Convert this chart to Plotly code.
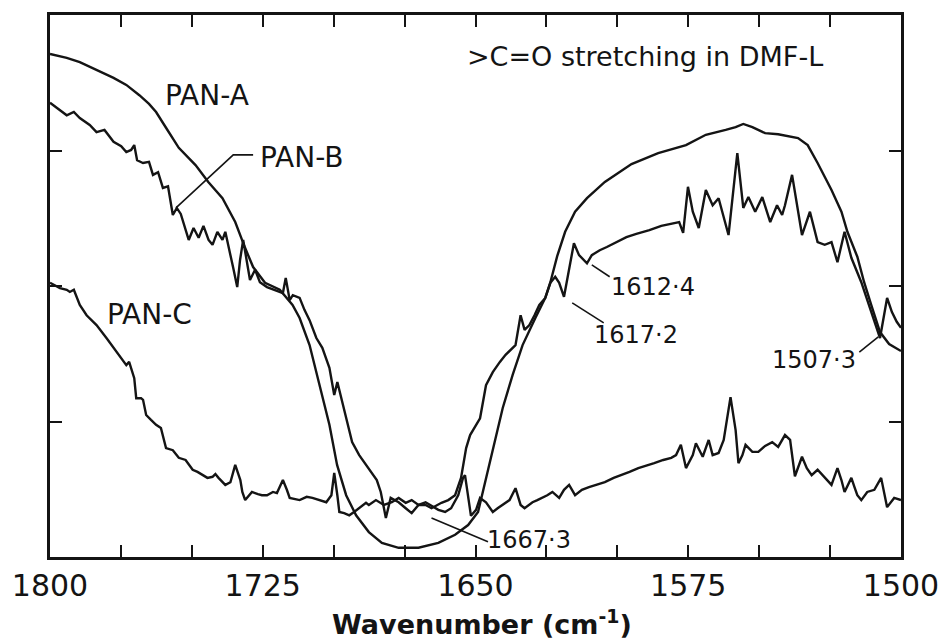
import plotly.graph_objects as go

# ---------------- data (wavenumber in cm^-1, intensity in arbitrary units 0-100) ----------------
pan_a_x = [1800.0, 1794.1, 1789.5, 1783.6, 1777.6, 1773.1, 1768.5, 1765.1, 1762.6, 1759.1,
           1754.6, 1748.7, 1744.2, 1739.2, 1734.7, 1731.2, 1728.4, 1724.2, 1719.0, 1714.5,
           1712.0, 1708.5, 1705.0, 1701.5, 1698.8, 1695.6, 1692.1, 1687.6, 1683.0, 1677.1,
           1670.1, 1663.1, 1657.2, 1652.6, 1649.1, 1647.4, 1643.9, 1640.4, 1636.9, 1633.4,
           1628.9, 1625.4, 1623.6, 1621.2, 1618.4, 1614.9, 1610.7, 1604.4, 1595.0, 1585.6,
           1575.8, 1568.8, 1561.8, 1558.3, 1555.6, 1552.4, 1547.9, 1543.3, 1536.3, 1532.9,
           1529.4, 1524.5, 1521.0, 1518.9, 1515.4, 1513.0, 1510.5, 1507.4, 1504.2, 1500.0]
pan_a_y = [92.8, 92.1, 91.3, 89.9, 88.4, 87.1, 85.2, 83.6, 82.1, 79.2,
           75.5, 72.3, 69.2, 66.2, 61.8, 57.0, 53.5, 50.6, 49.3, 46.5,
           44.1, 39.1, 31.7, 24.4, 17.0, 11.4, 7.7, 4.6, 2.6, 1.7,
           1.7, 2.6, 4.1, 5.9, 8.3, 12.0, 19.4, 27.5, 33.6, 39.1,
           44.1, 47.8, 50.7, 55.5, 60.0, 63.7, 66.2, 69.2, 72.5, 74.5,
           76.0, 77.9, 78.8, 79.3, 79.9, 79.3, 78.2, 78.0, 77.3, 76.0,
           72.7, 67.7, 63.7, 60.0, 55.4, 50.7, 46.5, 41.5, 39.3, 38.0]

pan_b_x = [1800.0, 1797.6, 1794.1, 1791.6, 1789.5, 1786.0, 1783.6, 1780.8, 1777.6, 1774.9,
           1773.1, 1771.4, 1770.3, 1769.3, 1767.2, 1765.1, 1763.7, 1761.9, 1760.2, 1758.4,
           1756.7, 1755.3, 1753.9, 1751.1, 1749.4, 1747.6, 1745.9, 1744.1, 1742.7, 1741.0,
           1739.2, 1738.2, 1737.1, 1735.4, 1734.0, 1733.0, 1731.9, 1730.5, 1729.5, 1727.7,
           1726.0, 1723.5, 1720.7, 1717.9, 1716.9, 1715.5, 1714.4, 1712.0, 1710.3, 1708.5,
           1706.1, 1704.0, 1701.5, 1699.8, 1698.7, 1697.3, 1695.6, 1693.5, 1691.0, 1688.6,
           1685.8, 1684.8, 1683.4, 1681.6, 1679.9, 1677.1, 1674.6, 1672.5, 1670.1, 1667.6,
           1665.5, 1662.0, 1659.6, 1657.2, 1655.1, 1653.3, 1651.9, 1649.8, 1648.4, 1646.3,
           1643.9, 1641.4, 1639.4, 1635.9, 1634.1, 1632.7, 1631.0, 1629.2, 1627.5, 1625.4,
           1623.6, 1621.9, 1620.5, 1618.8, 1617.0, 1615.3, 1613.5, 1610.7, 1609.0, 1606.2,
           1603.7, 1600.2, 1596.8, 1593.3, 1588.7, 1584.5, 1580.3, 1578.2, 1576.8, 1575.1,
           1573.4, 1571.3, 1568.8, 1566.4, 1564.3, 1560.8, 1557.7, 1555.6, 1553.8, 1551.4,
           1548.9, 1546.1, 1543.7, 1541.9, 1540.9, 1538.4, 1534.9, 1532.1, 1529.4, 1526.9,
           1524.5, 1522.4, 1519.9, 1517.5, 1514.0, 1510.5, 1507.4, 1504.9, 1503.2, 1501.5,
           1500.0]
pan_b_y = [83.8, 82.8, 81.5, 82.1, 81.0, 79.7, 78.4, 78.8, 76.6, 75.8,
           74.7, 75.1, 76.0, 73.2, 72.7, 72.9, 70.5, 71.0, 68.1, 68.4,
           63.1, 64.4, 63.3, 58.5, 60.7, 58.9, 61.1, 58.5, 57.6, 60.0,
           58.5, 60.0, 57.6, 53.3, 49.8, 54.8, 58.5, 54.4, 51.1, 53.0,
           50.7, 49.8, 49.3, 48.7, 51.5, 47.4, 48.3, 47.8, 45.6, 43.7,
           40.4, 38.6, 34.9, 29.9, 32.3, 29.3, 25.6, 21.2, 18.8, 17.0,
           14.8, 14.2, 12.0, 7.2, 10.9, 10.1, 9.0, 8.1, 9.6, 9.6,
           9.0, 10.0, 10.5, 11.4, 14.6, 20.1, 22.5, 24.4, 25.6, 31.7,
           34.1, 36.0, 37.3, 39.1, 44.6, 41.9, 42.8, 44.6, 46.5, 47.8,
           50.6, 51.7, 50.6, 48.0, 53.0, 57.9, 55.7, 54.2, 55.7, 56.6,
           57.2, 58.1, 59.0, 59.6, 60.3, 61.1, 61.6, 61.8, 59.8, 68.3,
           63.7, 60.7, 67.7, 64.9, 66.2, 59.4, 74.5, 64.4, 66.4, 63.7,
           66.4, 61.8, 64.9, 63.1, 64.9, 70.5, 59.4, 63.7, 58.1, 57.6,
           58.1, 54.4, 60.0, 55.2, 50.7, 45.2, 40.4, 47.8, 45.2, 43.4,
           42.3]

pan_c_x = [1800.0, 1798.6, 1796.5, 1794.1, 1793.0, 1791.6, 1789.5, 1787.1, 1783.6, 1780.1,
           1776.6, 1773.1, 1772.1, 1770.3, 1769.6, 1767.9, 1767.2, 1766.1, 1764.4, 1762.6,
           1760.9, 1759.1, 1756.7, 1754.6, 1752.2, 1749.7, 1748.0, 1746.2, 1744.5, 1742.7,
           1741.7, 1740.6, 1738.2, 1736.4, 1734.7, 1732.9, 1732.2, 1731.2, 1728.8, 1726.7,
           1725.3, 1723.5, 1721.4, 1720.0, 1717.9, 1716.5, 1715.5, 1712.0, 1709.5, 1707.5,
           1705.0, 1702.6, 1700.8, 1699.8, 1698.7, 1698.0, 1696.3, 1694.5, 1692.8, 1691.0,
           1688.6, 1687.6, 1685.1, 1682.3, 1679.5, 1677.1, 1674.6, 1672.5, 1670.1, 1667.6,
           1665.5, 1663.1, 1660.7, 1658.6, 1656.1, 1654.4, 1653.7, 1652.6, 1651.6, 1649.8,
           1648.4, 1646.3, 1643.9, 1642.2, 1640.4, 1638.0, 1635.9, 1634.1, 1632.7, 1629.9,
           1628.2, 1626.4, 1624.7, 1622.9, 1620.5, 1618.8, 1617.0, 1614.9, 1612.5, 1610.0,
           1607.2, 1604.4, 1601.3, 1598.5, 1595.7, 1592.6, 1589.8, 1587.0, 1583.8, 1581.0,
           1579.3, 1577.6, 1575.8, 1573.4, 1572.3, 1569.9, 1567.8, 1566.4, 1564.3, 1562.5,
           1560.1, 1558.3, 1557.3, 1555.9, 1554.8, 1552.4, 1550.3, 1547.9, 1545.4, 1543.3,
           1540.9, 1539.1, 1537.4, 1536.0, 1534.9, 1533.2, 1531.5, 1529.4, 1526.9, 1524.5,
           1522.4, 1521.0, 1519.9, 1517.5, 1516.4, 1515.4, 1514.0, 1511.9, 1509.4, 1507.0,
           1504.9, 1502.4, 1500.0]
pan_c_y = [50.6, 50.2, 49.6, 49.3, 48.9, 49.3, 46.5, 44.6, 42.8, 40.4,
           37.8, 35.4, 36.0, 33.0, 29.3, 29.3, 29.0, 26.2, 25.3, 24.4,
           23.8, 20.1, 19.7, 18.3, 17.9, 16.1, 15.7, 15.1, 14.6, 14.8,
           15.3, 14.6, 13.3, 13.8, 17.0, 14.2, 12.0, 10.5, 12.0, 11.6,
           11.4, 11.4, 12.0, 11.8, 14.2, 12.4, 10.9, 10.5, 11.1, 10.9,
           10.5, 10.1, 11.4, 15.5, 11.4, 8.3, 8.1, 7.7, 8.3, 9.0,
           10.0, 9.6, 10.5, 9.6, 10.1, 10.9, 10.0, 10.5, 9.6, 10.1,
           9.4, 8.7, 8.3, 9.0, 11.4, 14.6, 15.1, 11.4, 7.6, 8.7,
           10.9, 10.1, 8.3, 9.0, 9.6, 10.5, 12.7, 9.6, 9.0, 10.1,
           10.5, 10.9, 11.4, 12.0, 10.9, 12.4, 13.3, 11.4, 12.4, 12.9,
           13.3, 13.8, 14.6, 15.1, 15.7, 16.4, 16.8, 17.3, 17.9, 18.3,
           18.8, 20.7, 16.4, 18.8, 21.0, 18.5, 21.6, 18.8, 19.2, 21.6,
           29.5, 23.4, 17.3, 18.8, 20.7, 19.4, 19.4, 20.5, 21.2, 20.3,
           22.5, 21.6, 14.9, 17.0, 18.5, 16.4, 15.1, 16.1, 14.6, 13.3,
           16.4, 14.2, 12.0, 14.6, 12.9, 11.4, 10.5, 12.0, 12.4, 14.6,
           9.2, 10.9, 10.5]

x_major_ticks = [1800, 1725, 1650, 1575, 1500]
x_minor_step = 25
y_tick_vals = [25, 50, 75]

# ---------------- figure ----------------
INK = "#141414"
FONT = "DejaVu Sans"

fig = go.Figure()
for xs, ys in [(pan_a_x, pan_a_y), (pan_b_x, pan_b_y), (pan_c_x, pan_c_y)]:
    fig.add_trace(go.Scatter(x=xs, y=ys, mode="lines",
                             line=dict(color=INK, width=2.4),
                             showlegend=False, hoverinfo="skip"))

# labels
labels = [
    ("PAN-A", 1744.5, 85.1, 28),
    ("PAN-B", 1711.0, 73.8, 28),
    ("PAN-C", 1765.1, 44.8, 28),
    ("1612·4", 1587.3, 49.8, 24),
    ("1617·2", 1593.3, 41.0, 24),
    ("1507·3", 1530.7, 36.3, 24),
    ("1667·3", 1631.0, 3.1, 24),
    (">C=O stretching in DMF-L", 1590.3, 92.3, 27),
]
for txt, x, y, sz in labels:
    fig.add_annotation(x=x, y=y, xref="x", yref="y", text=txt, showarrow=False,
                       font=dict(family=FONT, size=sz, color=INK),
                       xanchor="center", yanchor="middle")

# leader lines
leaders = [
    [(1728.4, 74.2), (1735.4, 74.2), (1755.6, 64.4)],
    [(1609.0, 53.9), (1602.7, 51.7)],
    [(1615.9, 46.9), (1604.8, 43.2)],
    [(1514.7, 37.8), (1508.0, 40.6)],
    [(1665.5, 7.2), (1645.6, 2.8)],
]
for pts in leaders:
    path = "M " + " L ".join(f"{px},{py}" for px, py in pts)
    fig.add_shape(type="path", path=path, xref="x", yref="y",
                  line=dict(color=INK, width=1.6))

# axis title
fig.add_annotation(x=0.5076, y=-0.12, xref="paper", yref="paper",
                   text="<b>Wavenumber (cm<sup>-1</sup>)</b>", showarrow=False,
                   font=dict(family=FONT, size=27, color=INK),
                   xanchor="center", yanchor="middle")

fig.update_layout(
    width=951, height=639,
    margin=dict(l=48, r=44, t=15, b=82),
    paper_bgcolor="white", plot_bgcolor="white",
    font=dict(family=FONT, color=INK),
    showlegend=False,
)
fig.update_xaxes(range=[1800, 1500], tickvals=x_major_ticks,
                 ticks="inside", ticklen=12, tickwidth=2, tickcolor=INK,
                 minor=dict(dtick=x_minor_step, tick0=1500, ticks="inside", ticklen=12,
                            tickwidth=2, tickcolor=INK, showgrid=False),
                 showline=True, linewidth=2.5, linecolor=INK, mirror="ticks",
                 showgrid=False, zeroline=False,
                 tickfont=dict(family=FONT, size=30, color=INK))
fig.update_yaxes(range=[0, 100], tickvals=y_tick_vals, showticklabels=False,
                 ticks="inside", ticklen=12, tickwidth=2, tickcolor=INK,
                 showline=True, linewidth=2.5, linecolor=INK, mirror="ticks",
                 showgrid=False, zeroline=False)

fig.write_html("out.html")
